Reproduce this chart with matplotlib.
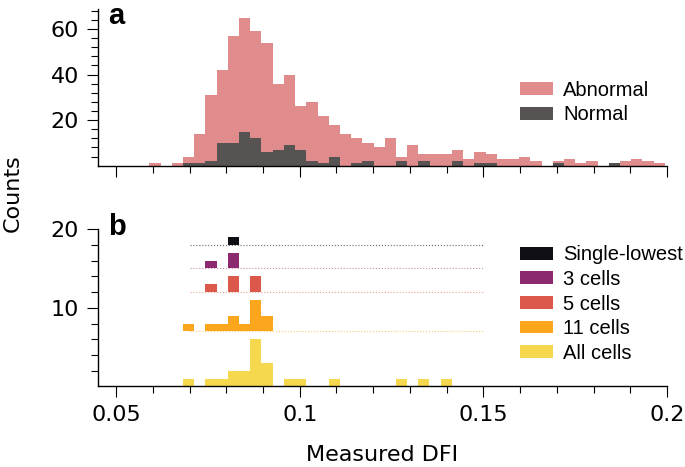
import numpy as np
import matplotlib
matplotlib.use("Agg")
import matplotlib.pyplot as plt
from matplotlib.ticker import FixedLocator

plt.rcParams["font.family"] = ["DejaVu Sans"]

# ---- data ----
# panel a: shared bins, first bin starts at a_bin_start, width bin_width
a_bin_start = 0.0591
bin_width = 0.00305
abnormal = [1, 0, 1, 4, 14, 31, 42, 57, 65, 59, 54, 36, 40, 26, 28, 22, 18, 14,
            12, 10, 8, 12, 4, 9, 5, 5, 5, 7, 3, 6, 5, 3, 3, 4, 2, 0, 2, 3, 1, 2,
            0, 1, 2, 3, 2, 1]
normal = [0, 0, 0, 1, 1, 2, 10, 10, 15, 12, 6, 7, 9, 7, 2, 1, 4, 0,
          1, 2, 0, 0, 2, 0, 2, 0, 0, 2, 0, 1, 1, 0, 0, 0, 0, 0, 1, 0, 0, 0,
          0, 1, 0, 0, 0, 0]

# panel b: histograms of the lowest-DFI cells, stacked with offsets
b_bin_start = 0.0682
b_labels = ["Single-lowest", "3 cells", "5 cells", "11 cells", "All cells"]
b_offsets = [18, 15, 12, 7, 0]
single_lowest = [0, 0, 0, 0, 1, 0, 0, 0]
cells_3 = [0, 0, 1, 0, 2, 0, 0, 0]
cells_5 = [0, 0, 1, 0, 2, 0, 2, 0]
cells_11 = [1, 0, 1, 1, 2, 1, 4, 2]
cells_all = [1, 0, 1, 1, 2, 2, 6, 3, 0, 1, 1, 0, 0, 1, 0, 0, 0, 0, 0, 1, 0, 1, 0, 1]
b_colors = ["#100e15", "#8c2a70", "#dc584b", "#fba61c", "#f6d84f"]
b_line_colors = ["#666666", "#c58ab5", "#eba095", "#fcc87a", "#f6d84f"]

PINK = "#e08c8c"
DARK = "#575353"
TICK_FS = 16
LEG = dict(loc="upper left", frameon=False, handlelength=1.65, handleheight=0.6,
           handletextpad=0.5, labelspacing=0.28, borderpad=0, borderaxespad=0,
           prop={"family": "Liberation Sans", "size": 14.5})

fig = plt.figure(figsize=(6.85, 4.67), dpi=100)
ax_a = fig.add_axes([0.1426, 0.6452, 0.8311, 0.3352])
ax_b = fig.add_axes([0.1426, 0.1724, 0.8311, 0.3372])


def edges(start, n):
    return start + bin_width * np.arange(n)


ax_a.bar(edges(a_bin_start, len(abnormal)), abnormal, width=bin_width, align="edge",
         color=PINK, linewidth=0, label="Abnormal")
ax_a.bar(edges(a_bin_start, len(normal)), normal, width=bin_width, align="edge",
         color=DARK, linewidth=0, label="Normal")

b_series = [single_lowest, cells_3, cells_5, cells_11, cells_all]
for counts, off, lab, col, lcol in zip(b_series, b_offsets, b_labels, b_colors, b_line_colors):
    if off > 0:
        ax_b.hlines(off, 0.07, 0.15, colors=lcol, linestyles=":", linewidth=0.8, zorder=1)
    ax_b.bar(edges(b_bin_start, len(counts)), counts, width=bin_width, bottom=off,
             align="edge", color=col, linewidth=0, label=lab, zorder=2)

for ax in (ax_a, ax_b):
    ax.set_xlim(0.0450, 0.2)
    ax.spines["top"].set_visible(False)
    ax.spines["right"].set_visible(False)
    for s in ("left", "bottom"):
        ax.spines[s].set_linewidth(1.0)
    ax.set_xticks([0.05, 0.1, 0.15, 0.2])
    ax.xaxis.set_minor_locator(FixedLocator(np.arange(0.06, 0.2, 0.01)))
    ax.tick_params(which="major", length=8, width=0.8, labelsize=TICK_FS, direction="out", pad=5.5)
    ax.tick_params(which="minor", length=5, width=0.8, direction="out")

ax_a.set_ylim(0, 68.7)
ax_a.set_yticks([20, 40, 60])
ax_a.yaxis.set_minor_locator(FixedLocator([4, 8, 12, 16, 24, 28, 32, 36, 44, 48, 52, 56, 64, 68]))
ax_a.tick_params(axis="x", labelbottom=False)
ax_a.legend(bbox_to_anchor=(0.742, 0.543), **LEG)

ax_b.set_ylim(0, 20)
ax_b.set_yticks([10, 20])
ax_b.yaxis.set_minor_locator(FixedLocator([2, 4, 6, 8, 12, 14, 16, 18]))
ax_b.set_xticklabels(["0.05", "0.1", "0.15", "0.2"])
ax_b.legend(bbox_to_anchor=(0.742, 0.897), **LEG)
ax_b.set_xlabel("Measured DFI", fontsize=TICK_FS, labelpad=14)

fig.text(0.158, 1 - 1.5 / 467, "a", fontsize=21, fontweight="bold", family="Liberation Sans",
         va="top", ha="left")
ax_b.text(0.018, 0.962, "b", transform=ax_b.transAxes, fontsize=21, fontweight="bold",
          family="Liberation Sans", va="baseline", ha="left")
fig.text(0.018, 1 - 193 / 467, "Counts", rotation=90, fontsize=TICK_FS, va="center", ha="center")

fig.savefig("out.png", dpi=100)
